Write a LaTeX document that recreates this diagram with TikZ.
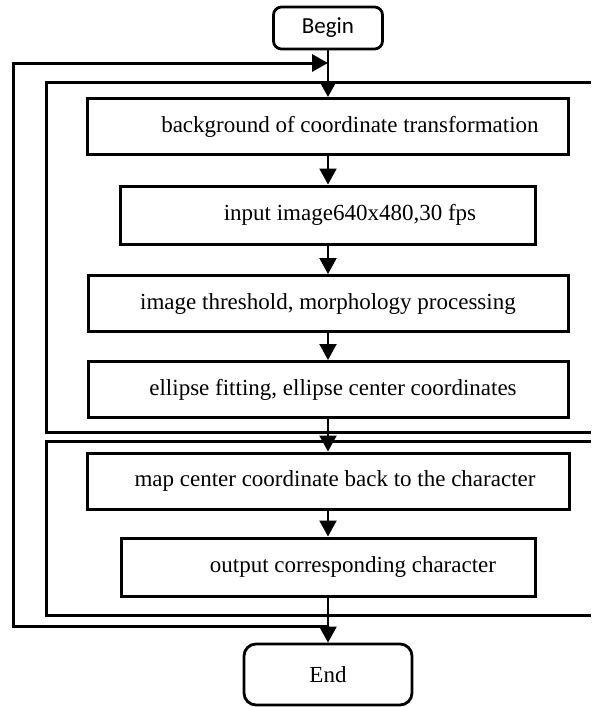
\documentclass[tikz,border=0pt]{standalone}
\usepackage{fontspec}
\setmainfont{Liberation Serif}
\newfontfamily\beginfont{Carlito}
\usetikzlibrary{positioning, arrows.meta}

\begin{document}
\begin{tikzpicture}[->,>={Triangle[width=8.5pt,length=8pt]},x=0.5pt,y=-0.5pt,line width=1.1pt,
    stepbox/.style={draw,rectangle,line width=1.5pt,minimum width=#1,minimum height=28pt,inner sep=2pt,font=\fontsize{11.5}{14}\selectfont},
    terminal/.style={draw,rectangle,rounded corners=#1,line width=1.4pt,inner sep=2pt},
    frame/.style={-,line width=1.5pt}]
    \useasboundingbox (0,0) rectangle (591,707);

    \node[terminal=4pt,minimum width=54.5pt,minimum height=21pt,font=\beginfont\fontsize{11.5}{13}\selectfont] (begin) at (328,28) {Begin};
    \node[stepbox=240.5pt] (b1) at (328,126.5) {\hspace*{22pt}background of coordinate transformation};
    \node[stepbox=207.5pt,minimum height=29pt] (b2) at (328,215) {\hspace*{22pt}input image640x480,30 fps};
    \node[stepbox=240pt] (b3) at (328,303.5) {image threshold, morphology processing};
    \node[stepbox=240pt] (b4) at (328,389.5) {\hspace*{5pt}ellipse fitting, ellipse center coordinates};
    \node[stepbox=241pt] (b5) at (328,481) {\hspace*{7pt}map center coordinate back to the character};
    \node[stepbox=207pt,minimum height=29pt] (b6) at (328,567) {\hspace*{25pt}output corresponding character};
    \node[terminal=6pt,minimum width=84pt,minimum height=30.5pt,font=\fontsize{11.5}{14}\selectfont] (end) at (328,674.5) {End};

    % the two frames, open on the right
    \draw[frame] (591,82) -- (46,82) -- (46,432) -- (591,432);
    \draw[frame] (591,441) -- (46,441) -- (46,615) -- (591,615);

    % loop back to the start
    \coordinate (loopin) at (328,63);
    \coordinate (loopout) at (328,626);
    \coordinate (looptl) at (13,63);
    \coordinate (loopbl) at (13,626);
    \draw[line width=1.5pt] (loopout) -- (loopbl) -- (looptl) -- (loopin);

    \path (begin) edge (b1)
          (b1) edge (b2)
          (b2) edge (b3)
          (b3) edge (b4)
          (b4) edge (b5)
          (b5) edge (b6)
          (b6) edge (end);
\end{tikzpicture}
\end{document}
